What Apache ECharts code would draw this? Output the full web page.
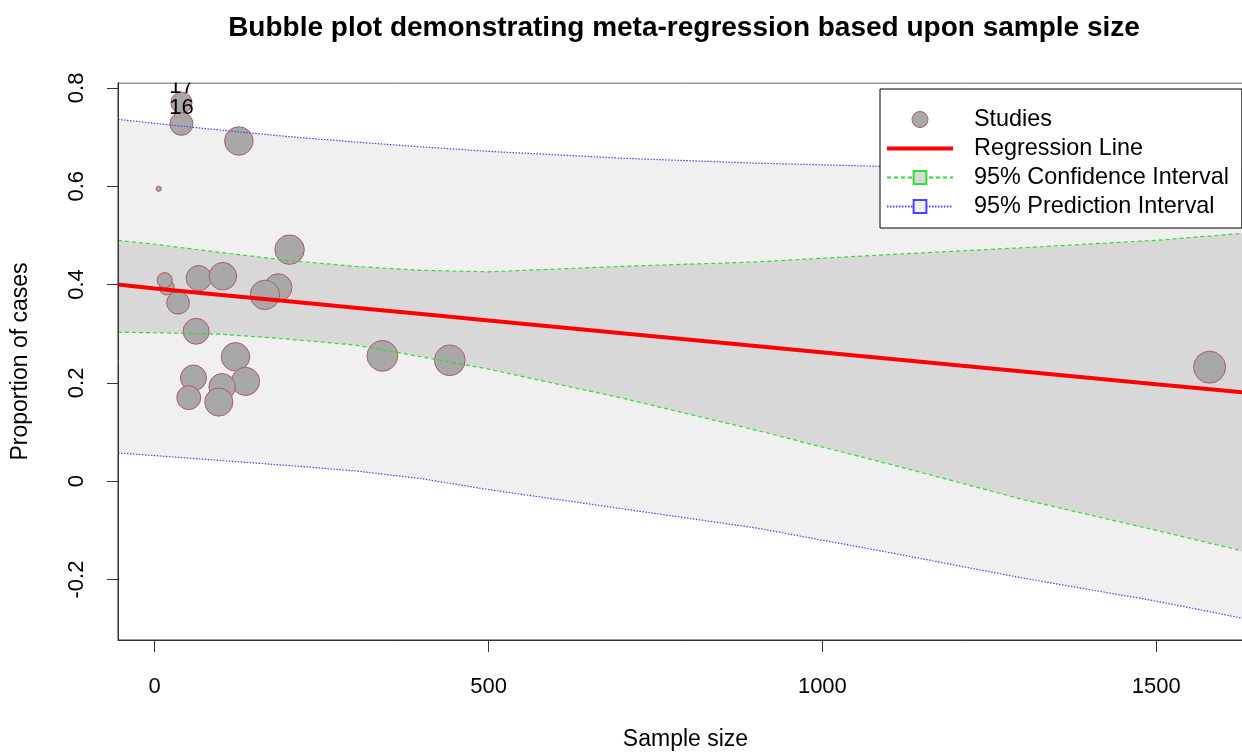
<!DOCTYPE html>
<html><head><meta charset="utf-8">
<script src="https://cdn.jsdelivr.net/npm/echarts@6/dist/echarts.min.js"></script>
<style>html,body{margin:0;padding:0;background:#fff}#chart{width:1242px;height:753px}</style>
</head><body><div id="chart"></div>
<script>
// ---- data ----
const titleText = 'Bubble plot demonstrating meta-regression based upon sample size';
const xAxisTitle = 'Sample size';
const yAxisTitle = 'Proportion of cases';
const xTickValues = [0, 500, 1000, 1500];
const yTickValues = [-0.2, 0, 0.2, 0.4, 0.6, 0.8];

const studySampleSize = [6, 40, 40, 126, 202, 18, 15, 35, 66, 102, 185, 165, 62, 121, 58, 51, 136, 101, 96, 341, 442, 1580];
const studyProportion = [0.595, 0.770, 0.727, 0.692, 0.471, 0.394, 0.409, 0.363, 0.413, 0.417, 0.394, 0.379, 0.305, 0.253, 0.210, 0.170, 0.203, 0.192, 0.161, 0.255, 0.246, 0.232];
const studyWeight = [0.16, 0.66, 0.72, 0.89, 0.92, 0.47, 0.47, 0.71, 0.79, 0.86, 0.86, 0.92, 0.81, 0.89, 0.81, 0.75, 0.88, 0.83, 0.88, 0.96, 0.96, 1.0];
const studyLabel = ['', '17', '16', '', '', '', '', '', '', '', '', '', '', '', '', '', '', '', '', '', '', ''];

const curveX = [-55, 0, 100, 200, 300, 400, 500, 700, 900, 1100, 1300, 1500, 1645];
const regressionY = [0.400, 0.392, 0.379, 0.366, 0.353, 0.340, 0.327, 0.301, 0.275, 0.249, 0.223, 0.197, 0.179];
const ciUpper = [0.490, 0.482, 0.465, 0.449, 0.437, 0.429, 0.426, 0.437, 0.446, 0.461, 0.475, 0.490, 0.506];
const ciLower = [0.303, 0.302, 0.299, 0.289, 0.277, 0.253, 0.228, 0.169, 0.104, 0.035, -0.037, -0.100, -0.147];
const piUpper = [0.736, 0.728, 0.714, 0.701, 0.690, 0.680, 0.671, 0.657, 0.647, 0.640, 0.636, 0.635, 0.637];
const piLower = [0.0575, 0.052, 0.042, 0.032, 0.021, 0.005, -0.017, -0.056, -0.095, -0.145, -0.197, -0.244, -0.283];

// ---- styles ----
const FONT = 'Liberation Sans, Arial, sans-serif';
const GREEN = '#33dd33', BLUE = '#4646ff', RED = '#ff0000';
const PI_FILL = '#f0f0f0', CI_FILL = '#d8d8d8';
const BUBBLE_FILL = '#a8a8a8', BUBBLE_EDGE = '#b05a64';
const CI_DASH = [4, 3], PI_DASH = [1.5, 1.5];

const pairs = (ys) => curveX.map((x, i) => [x, ys[i]]);

const studyData = studySampleSize.map((x, i) => {
  const item = { value: [x, studyProportion[i], studyWeight[i]] };
  if (studyLabel[i]) item.label = { show: true, formatter: studyLabel[i] };
  return item;
});

// band polygon drawn through the axes' scales (api.coord)
function bandSeries(name, upper, lower, fill) {
  return {
    name: name, type: 'custom', silent: true, data: [[0]],
    renderItem: function (params, api) {
      const pts = [];
      for (let i = 0; i < curveX.length; i++) pts.push(api.coord([curveX[i], upper[i]]));
      for (let i = curveX.length - 1; i >= 0; i--) pts.push(api.coord([curveX[i], lower[i]]));
      const cs = params.coordSys;
      return {
        type: 'polygon', shape: { points: pts }, style: { fill: fill, stroke: null },
        clipPath: { type: 'rect', shape: { x: cs.x, y: cs.y, width: cs.width, height: cs.height } }
      };
    }
  };
}

function boundLine(name, ys, color, dash, fill) {
  return {
    name: name, type: 'line', data: pairs(ys), symbol: 'rect', showSymbol: false, silent: true,
    color: color, itemStyle: { color: fill, borderColor: color, borderWidth: 1.2 },
    lineStyle: { color: color, width: 1.2, type: dash }
  };
}

const chart = echarts.init(document.getElementById('chart'), null, { renderer: 'canvas' });
chart.setOption({
  animation: false,
  backgroundColor: '#fff',
  title: {
    text: titleText, left: 684, top: 14, textAlign: 'center', padding: 0,
    textStyle: { fontFamily: FONT, fontWeight: 'bold', fontSize: 28, color: '#000' }
  },
  grid: {
    left: 118, top: 83, width: 1135, height: 557,
    show: true, borderColor: '#333', borderWidth: 1, backgroundColor: 'transparent',
    containLabel: false, outerBoundsMode: 'none'
  },
  xAxis: {
    type: 'value', min: -55, max: 1645, z: 10,
    name: xAxisTitle, nameLocation: 'middle', nameGap: 88,
    nameTextStyle: { fontFamily: FONT, fontSize: 23, color: '#000' },
    axisLine: { show: true, onZero: false, lineStyle: { color: '#333', width: 1 } },
    axisTick: { show: true, length: 12, customValues: xTickValues, lineStyle: { color: '#333' } },
    axisLabel: { customValues: xTickValues, margin: 36, fontFamily: FONT, fontSize: 22, color: '#000',
      formatter: (v) => String(v) },
    splitLine: { show: false }
  },
  yAxis: {
    type: 'value', min: -0.323, max: 0.81, z: 10,
    name: yAxisTitle, nameLocation: 'middle', nameGap: 86,
    nameTextStyle: { fontFamily: FONT, fontSize: 23, color: '#000' },
    axisLine: { show: true, onZero: false, lineStyle: { color: '#333', width: 1 } },
    axisTick: { show: true, length: 11, customValues: yTickValues, lineStyle: { color: '#333' } },
    axisLabel: { customValues: yTickValues, rotate: 90, margin: 30, fontFamily: FONT, fontSize: 22, color: '#000',
      formatter: (v) => String(v) },
    splitLine: { show: false }
  },
  legend: {
    orient: 'vertical', left: 880, top: 89,
    itemWidth: 66, itemHeight: 16, itemGap: 6,
    padding: [19, 13, 10, 6],
    backgroundColor: '#fff', borderColor: '#000', borderWidth: 1, borderRadius: 0,
    selectedMode: false, z: 20,
    textStyle: { fontFamily: FONT, fontSize: 23.4, color: '#000', padding: [0, 0, 0, 16] },
    data: [
      { name: 'Studies', icon: 'circle', itemStyle: { color: BUBBLE_FILL, borderColor: BUBBLE_EDGE, borderWidth: 1 } },
      { name: 'Regression Line', icon: 'path://M0,0H66V4H0Z', itemStyle: { color: RED, borderWidth: 0 } },
      { name: '95% Confidence Interval' },
      { name: '95% Prediction Interval' }
    ]
  },
  graphic: [
    { type: 'rect', z: 100, zlevel: 0, silent: true, shape: { x: 119, y: 55, width: 1130, height: 27.5 }, style: { fill: '#fff' } }
  ],
  series: [
    bandSeries('piBand', piUpper, piLower, PI_FILL),
    bandSeries('ciBand', ciUpper, ciLower, CI_FILL),
    boundLine('95% Prediction Interval', piUpper, BLUE, PI_DASH, PI_FILL),
    boundLine('95% Prediction Interval', piLower, BLUE, PI_DASH, PI_FILL),
    boundLine('95% Confidence Interval', ciUpper, GREEN, CI_DASH, CI_FILL),
    boundLine('95% Confidence Interval', ciLower, GREEN, CI_DASH, CI_FILL),
    { name: 'Regression Line', type: 'line', data: pairs(regressionY), symbol: 'none', silent: true,
      itemStyle: { color: RED }, lineStyle: { color: RED, width: 4 } },
    { name: 'Studies', type: 'scatter', data: studyData, clip: true,
      symbolSize: (v) => v[2] * 32,
      itemStyle: { color: BUBBLE_FILL, borderColor: BUBBLE_EDGE, borderWidth: 1, opacity: 1 },
      label: { show: false, position: 'inside', offset: [0, -16], fontFamily: FONT, fontSize: 22, color: '#000' },
      emphasis: { disabled: true } }
  ]
});
</script>
</body></html>
